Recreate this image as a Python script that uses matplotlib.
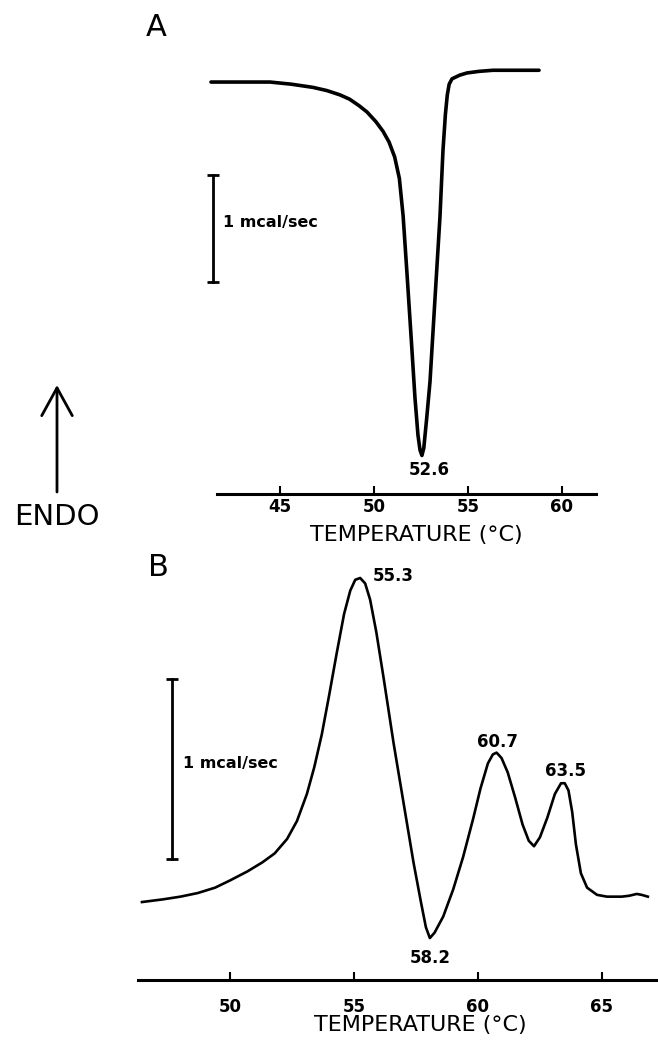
import numpy as np
import matplotlib
matplotlib.use("Agg")
import matplotlib.pyplot as plt

plt.rcParams['font.family'] = ['DejaVu Sans']

# panel A: single transition (temperature in C, heat flow in mcal/sec)
a_temp = [41.33, 44.47, 45.6, 46.76, 47.5, 48.19, 48.7, 49.2, 49.63, 50.1,
          50.48, 50.8, 51.1, 51.35, 51.55, 51.76, 52.0, 52.18, 52.34, 52.45,
          52.55, 52.65, 52.8, 52.98, 53.24, 53.51, 53.67, 53.8, 53.9, 54.0,
          54.15, 54.57, 54.95, 55.6, 56.33, 58.78]
a_flow = [0.0, 0.0, -0.02, -0.05, -0.08, -0.12, -0.16, -0.22, -0.28, -0.37,
          -0.46, -0.56, -0.70, -0.90, -1.25, -1.80, -2.45, -2.95, -3.30, -3.44,
          -3.49, -3.42, -3.15, -2.80, -2.04, -1.26, -0.64, -0.30, -0.12, -0.02,
          0.03, 0.065, 0.085, 0.10, 0.11, 0.11]

# panel B: multi-peak trace
b_temp = [46.45, 47.3, 48.0, 48.7, 49.4, 50.0, 50.7, 51.3, 51.8, 52.3,
          52.7, 53.1, 53.4, 53.7, 54.0, 54.3, 54.6, 54.85, 55.05, 55.25,
          55.45, 55.65, 55.9, 56.2, 56.6, 57.0, 57.4, 57.7, 57.9, 58.06,
          58.25, 58.6, 59.0, 59.4, 59.8, 60.1, 60.4, 60.6, 60.75, 60.95,
          61.2, 61.5, 61.8, 62.05, 62.26, 62.5, 62.8, 63.1, 63.35, 63.5,
          63.65, 63.8, 63.95, 64.15, 64.4, 64.8, 65.2, 65.8, 66.1, 66.4,
          66.6, 66.85]
b_flow = [0.0, 0.015, 0.03, 0.05, 0.08, 0.12, 0.17, 0.22, 0.27, 0.35,
          0.45, 0.60, 0.75, 0.93, 1.15, 1.38, 1.60, 1.73, 1.79, 1.80,
          1.77, 1.68, 1.50, 1.24, 0.88, 0.55, 0.22, 0.0, -0.14, -0.20,
          -0.17, -0.08, 0.07, 0.25, 0.46, 0.63, 0.77, 0.82, 0.83, 0.80,
          0.72, 0.58, 0.43, 0.34, 0.31, 0.36, 0.47, 0.60, 0.66, 0.66,
          0.62, 0.50, 0.32, 0.16, 0.08, 0.04, 0.03, 0.03, 0.035, 0.045,
          0.04, 0.03]

a_ticks = [45, 50, 55, 60]
b_ticks = [50, 55, 60, 65]
a_peaks = [("52.6", 52.93, -3.63)]
b_peaks = [("55.3", 56.57, 1.81), ("58.2", 58.06, -0.31),
           ("60.7", 60.77, 0.89), ("63.5", 63.51, 0.73)]

W, H = 658, 1040
fig = plt.figure(figsize=(W / 100, H / 100), dpi=100)


def px(x, y):
    return x / W, 1 - y / H


def setup(ax, ticks, pad):
    for s in ['top', 'left', 'right']:
        ax.spines[s].set_visible(False)
    ax.spines['bottom'].set_linewidth(2.2)
    ax.set_yticks([])
    ax.set_xticks(ticks)
    ax.set_xticklabels([str(t) for t in ticks], fontsize=12, fontweight='bold')
    ax.tick_params(axis='x', direction='in', length=6, width=1.5, pad=pad)
    ax.patch.set_alpha(0)


# ---- panel A ----
axA = fig.add_axes([217 / W, 1 - 494 / H, 379 / W, 434 / H])
axA.plot(a_temp, a_flow, color='black', lw=2.6, clip_on=False,
         solid_capstyle='round', solid_joinstyle='round')
axA.set_xlim(41.65, 61.81)
axA.set_ylim(-3.85, 0.206)
setup(axA, a_ticks, 3)
axA.plot([41.44, 41.44], [-0.87, -1.87], color='black', lw=2, marker='_',
         markersize=9, mew=2, clip_on=False)
axA.text(41.97, -1.31, "1 mcal/sec", fontsize=11.5, fontweight='bold',
         va='center', ha='left')
for lab, x, y in a_peaks:
    axA.text(x, y, lab, fontsize=12, fontweight='bold', ha='center', va='center')

# ---- panel B ----
axB = fig.add_axes([138 / W, 1 - 980 / H, 520 / W, 420 / H])
axB.plot(b_temp, b_flow, color='black', lw=1.9, clip_on=False,
         solid_joinstyle='round')
axB.set_xlim(46.29, 67.26)
axB.set_ylim(-0.433, 1.9)
setup(axB, b_ticks, 13)
axB.plot([47.66, 47.66], [1.239, 0.239], color='black', lw=2, marker='_',
         markersize=9, mew=2, clip_on=False)
axB.text(48.1, 0.77, "1 mcal/sec", fontsize=11.5, fontweight='bold',
         va='center', ha='left')
for lab, x, y in b_peaks:
    axB.text(x, y, lab, fontsize=12, fontweight='bold', ha='center', va='center')

# ---- figure labels ----
fig.text(*px(156, 28), "A", fontsize=22, ha='center', va='center')
fig.text(*px(158, 568), "B", fontsize=22, ha='center', va='center')
fig.text(*px(57, 517), "ENDO", fontsize=21, ha='center', va='center')
fig.text(*px(416, 535), "TEMPERATURE (°C)", fontsize=16, ha='center', va='center')
fig.text(*px(420, 1025), "TEMPERATURE (°C)", fontsize=16, ha='center', va='center')
fig.add_artist(plt.Annotation('', xy=px(57, 385), xytext=px(57, 492),
                              xycoords='figure fraction',
                              arrowprops=dict(arrowstyle='->,head_length=2.0,head_width=1.1',
                                              lw=2, color='black', shrinkA=0, shrinkB=0)))

fig.savefig("out.png", dpi=100)
